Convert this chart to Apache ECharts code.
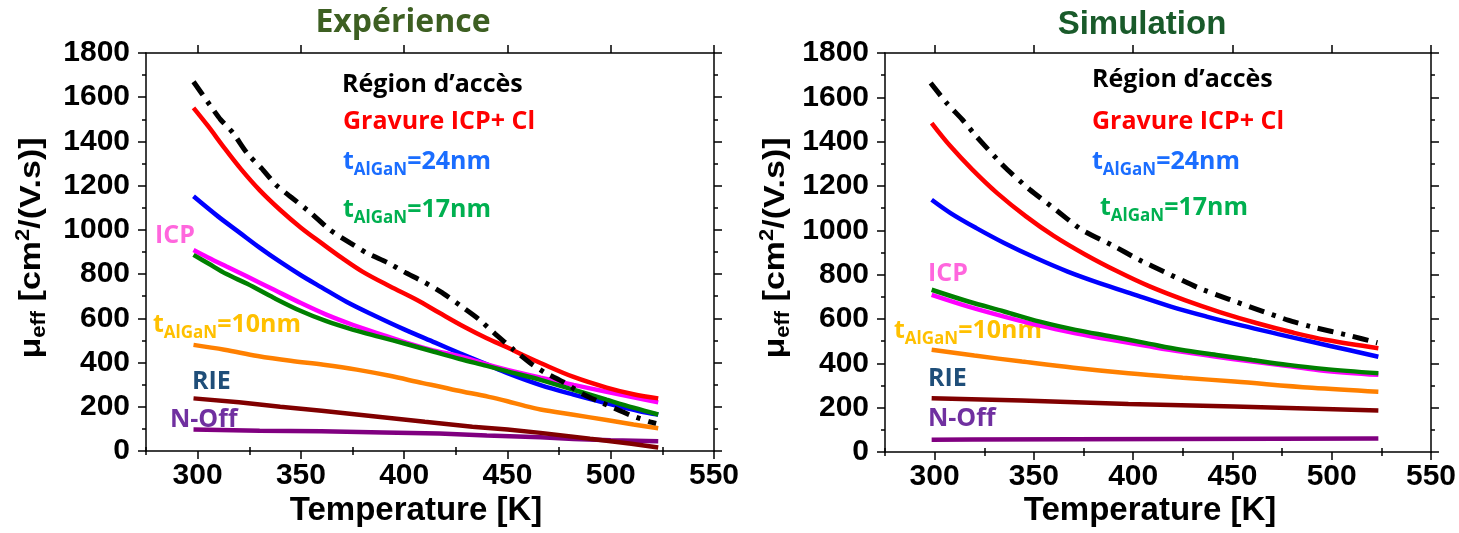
<!DOCTYPE html>
<html><head><meta charset="utf-8">
<script src="https://cdn.jsdelivr.net/npm/echarts@6/dist/echarts.min.js"></script>
<style>html,body{margin:0;padding:0;background:#fff}#c{width:1459px;height:533px}</style>
</head><body><div id="c"></div>
<script>
// ---------- DATA ----------
const panelTitles = ['Expérience', 'Simulation'];
const xAxisTitle = 'Temperature [K]';
const xMajorTicks = [300, 350, 400, 450, 500, 550];
const xMinorTicks = [275, 325, 375, 425, 475, 525];
const seriesKeys = ['acces', 'gravure', 't24', 't17', 'icp', 't10', 'rie', 'noff'];
const seriesLabels = ['Région d’accès', 'Gravure ICP+ Cl', 't|AlGaN|=24nm', 't|AlGaN|=17nm', 'ICP', 't|AlGaN|=10nm', 'RIE', 'N-Off'];

// Expérience
const expAcces = [[298,1670],[306,1564],[311,1500],[317,1440],[324,1346],[331,1278],[338,1203],[345,1150],[355,1075],[364,1000],[374,940],[382,895],[392,852],[400,810],[410,762],[419,712],[428,652],[436,597],[444,530],[453,458],[461,398],[468,355],[477,312],[487,255],[496,217],[510,160],[519,132],[522,125]];
const expGravure = [[298,1552],[305,1470],[313,1370],[321,1275],[330,1180],[340,1090],[350,1010],[360,940],[370,872],[380,810],[393,745],[406,684],[417,625],[429,562],[440,510],[450,468],[458,432],[466,398],[482,335],[498,287],[511,257],[523,238]];
const expT24 = [[298,1152],[310,1060],[320,990],[330,920],[340,855],[350,795],[360,740],[372,675],[385,615],[400,550],[415,490],[427,442],[440,392],[450,352],[466,298],[482,255],[498,216],[514,180],[523,165]];
const expT17 = [[298,887],[305,849],[314,800],[324,756],[337,692],[350,633],[362,588],[375,549],[388,516],[401,484],[414,450],[427,416],[440,385],[450,360],[466,322],[482,277],[498,232],[511,196],[523,165]];
const expICP = [[298,909],[305,875],[314,834],[324,789],[337,729],[350,669],[362,618],[375,571],[388,530],[401,490],[414,455],[427,428],[440,392],[450,367],[466,332],[482,299],[498,268],[511,243],[523,220]];
const expT10 = [[298,480],[313,458],[329,430],[345,408],[361,390],[377,368],[393,340],[409,307],[417,292],[425,275],[441,245],[450,225],[458,205],[466,188],[482,164],[498,140],[511,120],[523,103]];
const expRIE = [[298,238],[320,220],[340,200],[360,182],[385,157],[410,132],[433,110],[450,97],[466,82],[490,55],[510,33],[523,16]];
const expNOff = [[298,97],[330,92],[360,89],[390,84],[417,79],[440,70],[466,62],[482,54],[500,49],[523,44]];

// Simulation
const simAcces = [[298,1665],[306,1575],[314,1499],[321,1424],[335,1288],[348,1183],[360,1100],[374,1003],[389,935],[403,867],[417,807],[433,740],[448,690],[462,645],[478,595],[492,560],[508,527],[523,493]];
const simGravure = [[298.5,1484],[308,1379],[319,1274],[331.5,1168],[346,1063],[360,975],[376,890],[392,815],[408,748],[426,685],[444,630],[462,582],[480,540],[497.5,505],[523.5,468]];
const simT24 = [[298.5,1138],[308,1078],[321,1010],[335,943],[351,875],[367,814],[383,762],[401,709],[419,656],[437,611],[455,570],[473,532],[490.5,496],[508,461],[523.5,430]];
const simT17 = [[298.5,732],[317,679],[335,634],[353,588],[371,551],[389,521],[406.5,491],[424,461],[442,438],[460,415],[478,393],[496,375],[523.5,355]];
const simICP = [[298.5,709],[317,656],[335,611],[353,570],[371,536],[389,506],[406.5,479],[424,453],[442,430],[460,408],[478,388],[496,367],[523.5,348]];
const simT10 = [[298.5,461],[320,435],[344,408],[370,380],[397.6,355],[425,335],[451,318],[490,290],[523.5,272]];
const simRIE = [[298.5,242],[344,232],[397.6,217],[451,205],[523.5,187]];
const simNOff = [[298.5,55],[319,56],[320,61],[523.5,61]];

// ---------- STYLE / LAYOUT ----------
const lineColors = {acces:'#000000', gravure:'#ff0000', t24:'#0000ff', t17:'#008000', icp:'#ff00ff', t10:'#ff8000', rie:'#800000', noff:'#800080'};
const textColors = {acces:'#000000', gravure:'#ff0000', t24:'#1a6dff', t17:'#00b050', icp:'#ff66dd', t10:'#ffc000', rie:'#1f4e79', noff:'#7030a0'};
const drawOrder = ['noff','rie','t10','t24','icp','t17','gravure','acces'];
const panelData = [
  {acces:expAcces, gravure:expGravure, t24:expT24, t17:expT17, icp:expICP, t10:expT10, rie:expRIE, noff:expNOff},
  {acces:simAcces, gravure:simGravure, t24:simT24, t17:simT17, icp:simICP, t10:simT10, rie:simRIE, noff:simNOff}
];
const grids = [
  {left:146, top:53, width:568, height:398},
  {left:885, top:53, width:550, height:399}
];
// annotation anchor points (left x, vertical centre y) per panel
const annotPos = [
  {acces:[342,85], gravure:[343,122], t24:[343,162], t17:[343,210], icp:[155,236], t10:[153,325], rie:[192,382], noff:[170,420]},
  {acces:[1092,80], gravure:[1092,122], t24:[1092,162], t17:[1100,208], icp:[928,274], t10:[894,331], rie:[928,379], noff:[928,419]}
];
const titlePos = [[403,23],[1142,25]];
const titleColors = ['#3d5f22','#195a2a'];
const xTitlePos = [[416,511],[1150,511]];
const yTitlePos = [[32,248],[776,248]];

const AX = '#000';
const tickFont = {fontFamily:'Liberation Sans, Arial, sans-serif', fontWeight:'bold', fontSize:30, color:'#000'};
const plain = v => String(v);

const xAxes = [], yAxes = [], series = [], graphics = [];
grids.forEach((g, gi) => {
  // bottom major
  xAxes.push({type:'value', gridIndex:gi, position:'bottom', min:275, max:550,
    axisLine:{show:true, onZero:false, lineStyle:{color:AX, width:1.5}},
    axisTick:{show:true, customValues:xMajorTicks, length:8, lineStyle:{color:AX, width:1.5}},
    axisLabel:Object.assign({show:true, customValues:xMajorTicks, margin:10, formatter:plain}, tickFont),
    splitLine:{show:false}});
  // bottom minor
  xAxes.push({type:'value', gridIndex:gi, position:'bottom', min:275, max:550,
    axisLine:{show:false}, axisTick:{show:true, customValues:xMinorTicks, length:4, lineStyle:{color:AX, width:1.5}},
    axisLabel:{show:false}, splitLine:{show:false}});
  // top major
  xAxes.push({type:'value', gridIndex:gi, position:'top', min:275, max:550,
    axisLine:{show:true, onZero:false, lineStyle:{color:AX, width:1.5}},
    axisTick:{show:true, customValues:xMajorTicks, length:8, lineStyle:{color:AX, width:1.5}},
    axisLabel:{show:false}, splitLine:{show:false}});
  // top minor
  xAxes.push({type:'value', gridIndex:gi, position:'top', min:275, max:550,
    axisLine:{show:false}, axisTick:{show:true, customValues:xMinorTicks, length:4, lineStyle:{color:AX, width:1.5}},
    axisLabel:{show:false}, splitLine:{show:false}});
  // left y
  yAxes.push({type:'value', gridIndex:gi, position:'left', min:0, max:1800, interval:200,
    axisLine:{show:true, onZero:false, lineStyle:{color:AX, width:1.5}},
    axisTick:{show:true, length:8, lineStyle:{color:AX, width:1.5}},
    minorTick:{show:true, splitNumber:2, length:4, lineStyle:{color:AX, width:1.5}},
    axisLabel:Object.assign({show:true, margin:16, formatter:plain}, tickFont),
    splitLine:{show:false}, minorSplitLine:{show:false}});
  // right y
  yAxes.push({type:'value', gridIndex:gi, position:'right', min:0, max:1800, interval:200,
    axisLine:{show:true, onZero:false, lineStyle:{color:AX, width:1.5}},
    axisTick:{show:true, length:8, lineStyle:{color:AX, width:1.5}},
    minorTick:{show:true, splitNumber:2, length:4, lineStyle:{color:AX, width:1.5}},
    axisLabel:{show:false}, splitLine:{show:false}, minorSplitLine:{show:false}});

  drawOrder.forEach(k => {
    const isAcc = k === 'acces';
    series.push({
      name: panelTitles[gi] + ' – ' + seriesLabels[seriesKeys.indexOf(k)].replace(/\|/g,''),
      type:'line', xAxisIndex:gi*4, yAxisIndex:gi*2,
      data: panelData[gi][k], showSymbol:false, symbol:'none',
      smooth: (k === 'noff' || k === 'rie') ? false : (isAcc ? 0.2 : 0.35),
      lineStyle:{color:lineColors[k], width:isAcc ? 5 : 4.5, type:isAcc ? [16,8,4,8] : 'solid', cap:'butt'},
      itemStyle:{color:lineColors[k]},
      animation:false, silent:true
    });
  });

  // panel title
  graphics.push({type:'text', x:titlePos[gi][0], y:titlePos[gi][1], style:{
    text:panelTitles[gi], fill:titleColors[gi],
    fontFamily: gi === 0 ? 'Open Sans, sans-serif' : 'Liberation Sans, Arial, sans-serif',
    fontWeight:'bold', fontSize: gi === 0 ? 32 : 33,
    align:'center', verticalAlign:'middle', textAlign:'center', textVerticalAlign:'middle'}});
  // x title
  graphics.push({type:'text', x:xTitlePos[gi][0], y:xTitlePos[gi][1], style:{
    text:xAxisTitle, fill:'#000', fontFamily:'Liberation Sans, Arial, sans-serif', fontWeight:'bold', fontSize:33,
    align:'center', verticalAlign:'middle', textAlign:'center', textVerticalAlign:'middle'}});
  // y title (rotated, slightly condensed along its length)
  graphics.push({type:'text', x:yTitlePos[gi][0], y:yTitlePos[gi][1], rotation:Math.PI/2, scaleY:0.89, style:{
    text:'{m|μ}{s|eff}{m| [cm}{p|2}{m|/(V.s)]}', fill:'#000',
    fontFamily:'Liberation Sans, Arial, sans-serif', fontWeight:'bold', fontSize:34,
    align:'center', verticalAlign:'middle', textAlign:'center', textVerticalAlign:'middle',
    rich:{
      m:{fontFamily:'Liberation Sans, Arial, sans-serif', fontWeight:'bold', fontSize:34, lineHeight:40, fill:'#000'},
      s:{fontFamily:'Liberation Sans, Arial, sans-serif', fontWeight:'bold', fontSize:22, lineHeight:16, verticalAlign:'bottom', fill:'#000'},
      p:{fontFamily:'Liberation Sans, Arial, sans-serif', fontWeight:'bold', fontSize:22, lineHeight:16, verticalAlign:'top', fill:'#000'}
    }}});
  // annotations
  seriesKeys.forEach((k, i) => {
    const lab = seriesLabels[i];
    const col = textColors[k];
    const parts = lab.split('|');
    let txt;
    if (parts.length === 3) txt = '{t|' + parts[0] + '}{s|' + parts[1] + '}{t|' + parts[2] + '}';
    else txt = '{t|' + lab + '}';
    const p = annotPos[gi][k];
    graphics.push({type:'text', x:p[0], y:p[1], style:{
      text:txt, fill:col, fontFamily:'Open Sans, sans-serif', fontWeight:'bold', fontSize:25,
      align:'left', verticalAlign:'middle', textAlign:'left', textVerticalAlign:'middle',
      rich:{
        t:{fontFamily:'Open Sans, sans-serif', fontWeight:'bold', fontSize:25, lineHeight:34, fill:col},
        s:{fontFamily:'Open Sans, sans-serif', fontWeight:'bold', fontSize:17, lineHeight:14, verticalAlign:'bottom', fill:col}
      }}});
  });
});

const chart = echarts.init(document.getElementById('c'), null, {renderer:'canvas'});
chart.setOption({
  backgroundColor:'#ffffff',
  animation:false,
  grid: grids.map(g => Object.assign({containLabel:false}, g)),
  xAxis: xAxes,
  yAxis: yAxes,
  series: series,
  graphic: graphics
});
</script>
</body></html>
